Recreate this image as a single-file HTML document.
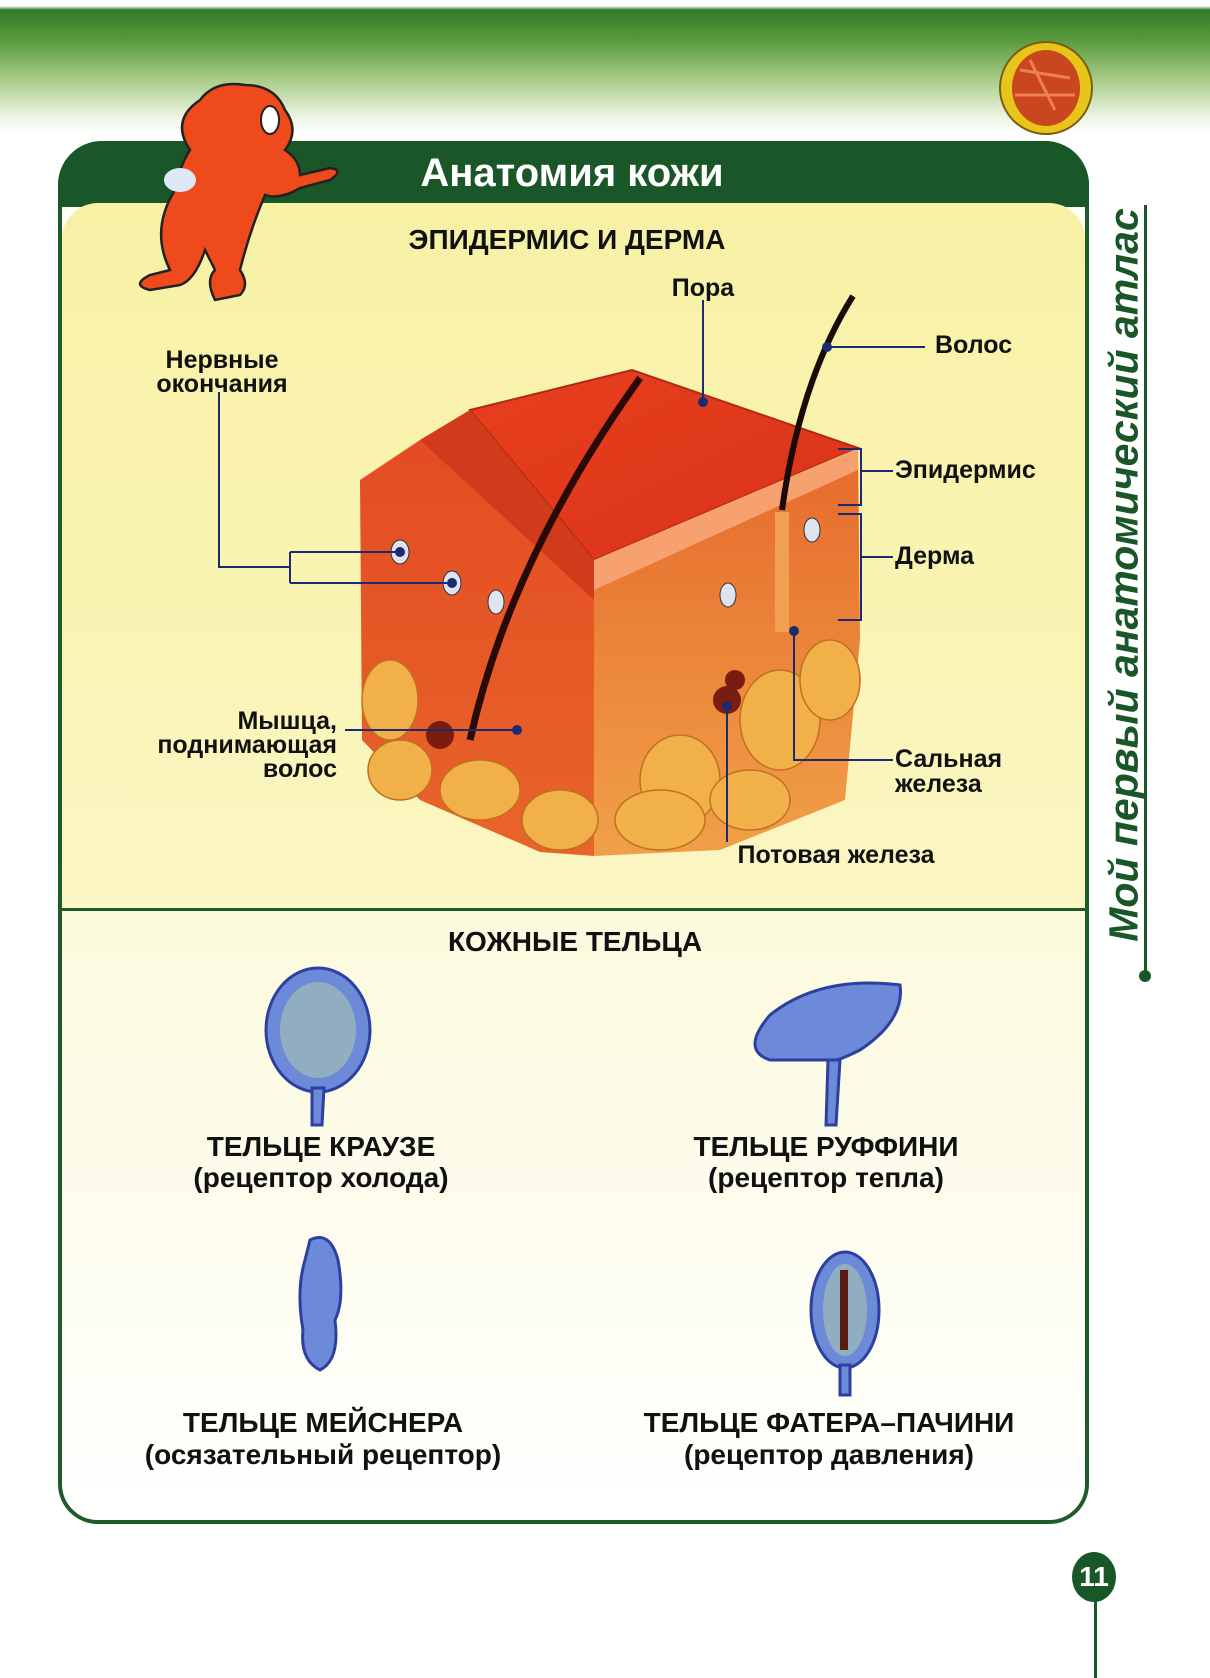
<!DOCTYPE html>
<html><head><meta charset="utf-8">
<style>
html,body{margin:0;padding:0}
body{width:1210px;height:1678px;position:relative;overflow:hidden;background:#fff;font-family:"Liberation Sans","Noto Sans CJK SC",sans-serif}
.t{position:absolute;font-weight:bold;color:#111;white-space:nowrap;line-height:1}
.c{transform:translateX(-50%);text-align:center}
</style></head><body>
<div style="position:absolute;left:0;top:0;width:1210px;height:140px;background:linear-gradient(#fff 0,#fff 6px,#2f7a2a 10px,#5a9a3c 40px,#a9cc8a 80px,#eef5e6 118px,#fff 135px)"></div>
<div style="position:absolute;left:58px;top:141px;width:1031px;height:1383px;border:4px solid #1f5b28;border-radius:44px 44px 40px 40px;box-sizing:border-box;background:linear-gradient(#fff 0,#fbf9d8 50%,#fff 100%)"></div>
<div style="position:absolute;left:58px;top:141px;width:1031px;height:66px;background:#1a5728;border-radius:44px 44px 0 0"></div>
<div style="position:absolute;left:62px;top:203px;width:1023px;height:707px;background:linear-gradient(#f7f1a6,#faf4b4 60%,#fbf6c4);border-radius:36px 36px 0 0"></div>
<div style="position:absolute;left:62px;top:908px;width:1023px;height:3px;background:#1f5b28"></div>
<div class="t c" style="left:572px;top:153px;font-size:40px;color:#fff">Анатомия кожи</div>
<div class="t c" style="left:567px;top:226px;font-size:28px">ЭПИДЕРМИС И ДЕРМА</div>
<div class="t c" style="left:575px;top:928px;font-size:28px">КОЖНЫЕ ТЕЛЬЦА</div>
<div class="t" style="left:1124px;top:575px;font-size:41px;color:#1a5728;font-style:italic;transform:translate(-50%,-50%) rotate(-90deg)">Мой первый анатомический атлас</div>
<div style="position:absolute;left:1144px;top:205px;width:3px;height:770px;background:#1a5728"></div>
<div style="position:absolute;left:1139px;top:970px;width:12px;height:12px;border-radius:50%;background:#1a5728"></div>
<div style="position:absolute;left:1094px;top:1590px;width:3px;height:88px;background:#1a5728"></div>
<div style="position:absolute;left:1072px;top:1552px;width:44px;height:50px;border-radius:50%;background:#1a5728;color:#fff;font-weight:bold;font-size:28px;text-align:center;line-height:50px">11</div>
<svg style="position:absolute;left:0;top:0" width="1210" height="1678">
<ellipse cx="1046" cy="88" rx="46" ry="46" fill="#e8c51a" stroke="#7a5d10" stroke-width="2"/>
<ellipse cx="1046" cy="88" rx="34" ry="38" fill="#c9461f"/>
<path d="M1020 70 L1070 78 M1030 60 L1055 110 M1015 95 L1075 95" stroke="#f08050" stroke-width="3"/>
<g fill="#ee4a1c" stroke="#222" stroke-width="2.5">
<path d="M170 270 Q150 230 175 190 Q180 165 190 150 Q170 120 200 100 Q215 80 245 85 Q275 85 285 110 Q300 130 285 150 Q300 160 300 175 L330 168 Q345 170 330 180 L300 188 Q280 200 265 195 Q250 230 240 270 Q250 285 240 295 L215 300 Q205 280 215 270 L205 250 Q195 280 180 285 L150 290 Q130 285 150 275 Z"/>
</g>
<ellipse cx="270" cy="120" rx="9" ry="14" fill="#fff" stroke="#222" stroke-width="2"/>
<ellipse cx="180" cy="180" rx="16" ry="12" fill="#dfe8f5"/>
<defs>
<linearGradient id="tp" x1="0" y1="0" x2="1" y2="1"><stop offset="0" stop-color="#e8401c"/><stop offset="1" stop-color="#d8321a"/></linearGradient>
<linearGradient id="lf" x1="0" y1="0" x2="0" y2="1"><stop offset="0" stop-color="#e44a22"/><stop offset="1" stop-color="#e8642a"/></linearGradient>
<linearGradient id="rf" x1="0" y1="0" x2="0" y2="1"><stop offset="0" stop-color="#e66a2c"/><stop offset="1" stop-color="#f0a048"/></linearGradient>
</defs>
<polygon points="360,480 420,440 470,410 594,560 594,856 540,852 420,800 362,740" fill="url(#lf)"/>
<polygon points="594,560 858,448 860,640 845,800 720,850 594,856" fill="url(#rf)"/>
<polygon points="470,410 632,370 858,448 594,560" fill="url(#tp)" stroke="#b02a12" stroke-width="2"/>
<polygon points="420,440 470,410 594,560 594,600" fill="#d23a1c"/>
<polygon points="594,560 858,448 858,470 594,590" fill="#f7a070"/>
<g fill="#f2b048" stroke="#c07020" stroke-width="1.5">
<ellipse cx="390" cy="700" rx="28" ry="40"/><ellipse cx="400" cy="770" rx="32" ry="30"/>
<ellipse cx="480" cy="790" rx="40" ry="30"/><ellipse cx="560" cy="820" rx="38" ry="30"/>
<ellipse cx="680" cy="780" rx="40" ry="45"/><ellipse cx="660" cy="820" rx="45" ry="30"/>
<ellipse cx="780" cy="720" rx="40" ry="50"/><ellipse cx="830" cy="680" rx="30" ry="40"/>
<ellipse cx="750" cy="800" rx="40" ry="30"/>
</g>
<path d="M470 740 Q510 560 640 378" stroke="#2a0a08" stroke-width="7" fill="none"/>
<path d="M782 510 Q800 380 853 296" stroke="#1a0a08" stroke-width="6" fill="none"/>
<rect x="775" y="512" width="14" height="120" fill="#f0a050"/>
<g fill="#7a1d10"><circle cx="727" cy="700" r="14"/><circle cx="735" cy="680" r="10"/><circle cx="440" cy="735" r="14"/></g>
<g fill="#dde4f0" stroke="#333"><ellipse cx="400" cy="552" rx="9" ry="12"/><ellipse cx="452" cy="583" rx="9" ry="12"/><ellipse cx="496" cy="602" rx="8" ry="12"/><ellipse cx="728" cy="595" rx="8" ry="12"/><ellipse cx="812" cy="530" rx="8" ry="12"/></g>
<g stroke="#1c2a70" stroke-width="2" fill="none">
<path d="M703 300 V402"/><path d="M827 347 H925"/>
<path d="M838 449 H861 V505 H838 M861 471 H893"/>
<path d="M838 514 H861 V620 H838 M861 557 H893"/>
<path d="M219 392 V567 H290 M290 552 V583 M290 552 H400 M290 583 H452"/>
<path d="M345 730 H517"/><path d="M794 631 V760 H893"/><path d="M727 706 V842"/>
</g>
<g fill="#1c2a70"><circle cx="703" cy="402" r="5"/><circle cx="827" cy="347" r="5"/><circle cx="400" cy="552" r="5"/><circle cx="452" cy="583" r="5"/><circle cx="517" cy="730" r="5"/><circle cx="794" cy="631" r="5"/><circle cx="727" cy="706" r="5"/></g>
<g fill="#6c8ad8" stroke="#2d3fa0" stroke-width="3">
<ellipse cx="318" cy="1030" rx="52" ry="62"/><path d="M312 1088 L312 1125 L322 1125 L324 1088 Z"/>
<path d="M770 1060 Q740 1050 770 1015 Q820 975 900 985 Q905 1020 860 1050 Q840 1060 835 1060 Z"/><path d="M828 1060 L826 1125 L836 1125 L840 1060 Z"/>
<path d="M310 1240 Q330 1230 338 1260 Q345 1300 335 1320 Q340 1360 320 1370 Q300 1360 303 1330 Q296 1290 305 1260 Z"/>
<ellipse cx="845" cy="1310" rx="34" ry="58"/><path d="M840 1365 L840 1395 L850 1395 L850 1365 Z"/>
</g>
<g fill="#a9c7b0" opacity=".6"><ellipse cx="318" cy="1030" rx="38" ry="48"/><ellipse cx="845" cy="1310" rx="22" ry="46"/></g>
<rect x="840" y="1270" width="8" height="80" fill="#5a1a10"/>
</svg>
<div class="t c" style="left:703px;top:276px;font-size:25px">Пора</div>
<div class="t" style="left:935px;top:333px;font-size:25px">Волос</div>
<div class="t" style="left:895px;top:458px;font-size:25px">Эпидермис</div>
<div class="t" style="left:895px;top:544px;font-size:25px">Дерма</div>
<div class="t c" style="left:222px;top:348px;font-size:25px;line-height:24px">Нервные<br>окончания</div>
<div class="t" style="left:80px;top:709px;width:257px;text-align:right;font-size:25px;line-height:24px">Мышца,<br>поднимающая<br>волос</div>
<div class="t" style="left:895px;top:747px;font-size:25px;line-height:25px">Сальная<br>железа</div>
<div class="t c" style="left:836px;top:843px;font-size:25px">Потовая железа</div>
<div class="t c" style="left:321px;top:1131px;font-size:28px;line-height:31px">ТЕЛЬЦЕ КРАУЗЕ<br>(рецептор холода)</div>
<div class="t c" style="left:826px;top:1131px;font-size:28px;line-height:31px">ТЕЛЬЦЕ РУФФИНИ<br>(рецептор тепла)</div>
<div class="t c" style="left:323px;top:1407px;font-size:28px;line-height:32px">ТЕЛЬЦЕ МЕЙСНЕРА<br>(осязательный рецептор)</div>
<div class="t c" style="left:829px;top:1407px;font-size:28px;line-height:32px">ТЕЛЬЦЕ ФАТЕРА–ПАЧИНИ<br>(рецептор давления)</div>
</body></html>
